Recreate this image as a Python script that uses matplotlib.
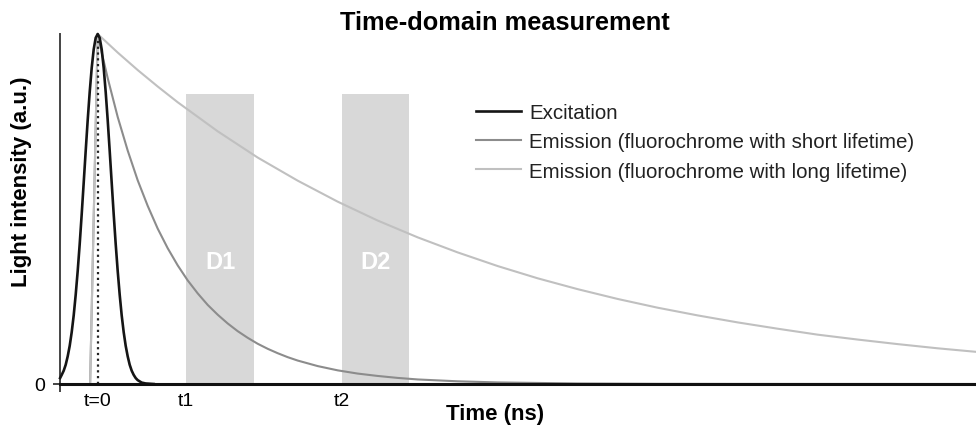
import matplotlib
matplotlib.use("Agg")
import matplotlib.pyplot as plt

plt.rcParams['font.family'] = ['Liberation Sans', 'DejaVu Sans']

# ---- data (time in ns-like units, intensity normalised) ----
exc_t = [-0.94, -0.9, -0.85, -0.8, -0.75, -0.7, -0.65, -0.6, -0.55, -0.5, -0.45, -0.4,
         -0.35, -0.3, -0.25, -0.2, -0.15, -0.1, -0.05, 0.0, 0.05, 0.1, 0.15, 0.2, 0.25,
         0.3, 0.35, 0.4, 0.45, 0.5, 0.55, 0.6, 0.65, 0.7, 0.75, 0.8, 0.85, 0.9, 0.95,
         1.0, 1.1, 1.2, 1.4]
exc_y = [0.017, 0.026, 0.038, 0.055, 0.079, 0.109, 0.148, 0.196, 0.255, 0.323, 0.400, 0.485,
         0.575, 0.666, 0.754, 0.834, 0.903, 0.956, 0.989, 1.0, 0.989, 0.956, 0.903, 0.834, 0.754,
         0.666, 0.575, 0.485, 0.400, 0.323, 0.255, 0.196, 0.148, 0.109, 0.079, 0.055, 0.038, 0.026, 0.017,
         0.011, 0.004, 0.0015, 0.0]

short_t = [-0.19, 0.0, 0.1, 0.25, 0.5, 0.75, 1.0, 1.25, 1.5, 1.75, 2.0, 2.25, 2.5, 2.75, 3.0,
           3.25, 3.5, 3.75, 4.0, 4.25, 4.5, 4.75, 5.0, 5.5, 6.0, 6.5, 7.0, 7.5, 8.0, 9.0, 10.0,
           12.0, 14.0, 16.0, 22.0]
short_y = [0.0, 1.0, 0.947, 0.874, 0.763, 0.667, 0.582, 0.509, 0.444, 0.388, 0.339, 0.296, 0.259, 0.226, 0.198,
           0.173, 0.151, 0.132, 0.115, 0.1006, 0.088, 0.0767, 0.067, 0.0512, 0.039, 0.0298, 0.023, 0.0174, 0.013,
           0.0077, 0.0045, 0.0015, 0.0005, 0.0002, 0.0]

long_t = [-0.19, 0.0, 0.5, 1.0, 1.5, 2.0, 3.0, 4.0, 5.0, 6.0, 7.0, 8.0, 9.0, 10.0, 11.0,
          12.0, 13.0, 14.0, 15.0, 16.0, 17.0, 18.0, 19.0, 20.0, 21.0, 22.0]
long_y = [0.0, 1.0, 0.947, 0.897, 0.850, 0.805, 0.722, 0.647, 0.581, 0.521, 0.467, 0.419, 0.376, 0.337, 0.302,
          0.271, 0.243, 0.218, 0.196, 0.176, 0.158, 0.141, 0.127, 0.114, 0.102, 0.0915]

gate_labels = ["D1", "D2"]
gate_start = [2.22, 6.10]
gate_end = [3.91, 7.79]
gate_height = 0.83

tick_pos = [0.0, 2.2, 6.1]
tick_labels = ["t=0", "t1", "t2"]

series_labels = ["Excitation",
                 "Emission (fluorochrome with short lifetime)",
                 "Emission (fluorochrome with long lifetime)"]

# ---- figure ----
W, H = 976, 427
fig = plt.figure(figsize=(W / 100, H / 100), dpi=100)
ax = fig.add_axes([60 / W, (H - 385) / H, (W - 60) / W, 350 / H])
ax.set_xlim(-0.9425, 21.96)
ax.set_ylim(0, 1.0)

for lab, a, b in zip(gate_labels, gate_start, gate_end):
    ax.axvspan(a, b, ymin=0, ymax=gate_height, color='#d8d8d8', lw=0, zorder=1)
    ax.text((a + b) / 2, 0.35, lab, color='white', fontsize=17, fontweight='bold',
            ha='center', va='center', zorder=2)

c_exc, c_short, c_long = '#151515', '#8c8c8c', '#c0c0c0'
l_long, = ax.plot(long_t, long_y, color=c_long, lw=1.5, zorder=3, clip_on=False,
                  solid_joinstyle='round')
l_short, = ax.plot(short_t, short_y, color=c_short, lw=1.5, zorder=2.5, clip_on=False,
                   solid_joinstyle='round')
l_exc, = ax.plot(exc_t, exc_y, color=c_exc, lw=1.9, zorder=4, clip_on=False,
                 solid_joinstyle='round')
ax.plot([0, 0], [0, 0.99], color='#222222', lw=1.6, ls=(0, (1, 1.6)), zorder=5)

# spines
for s in ['top', 'right']:
    ax.spines[s].set_visible(False)
ax.spines['left'].set_color('#444444')
ax.spines['left'].set_linewidth(1.4)
ax.spines['bottom'].set_color('#111111')
ax.spines['bottom'].set_linewidth(2.2)
ax.spines['bottom'].set_zorder(6)

ax.set_xticks(tick_pos)
ax.set_xticklabels(tick_labels, fontsize=14)
ax.tick_params(axis='x', length=0, pad=6)
ax.set_xticks([-0.9425], minor=True)
ax.tick_params(axis='x', which='minor', length=6, width=1.4, color='#444444')
ax.set_yticks([0])
ax.set_yticklabels(["0"], fontsize=14)
ax.tick_params(axis='y', length=5, width=1.4, color='#444444', pad=6)

# titles
fig.text(504.5 / W, (H - 23) / H, "Time-domain measurement", fontsize=18.3, fontweight='bold',
         ha='center', va='center')
fig.text(495 / W, (H - 415) / H, "Time (ns)", fontsize=16, fontweight='bold',
         ha='center', va='center')
fig.text(21.7 / W, (H - 181.5) / H, "Light intensity (a.u.)", fontsize=16, fontweight='bold',
         ha='center', va='center', rotation=90)

# legend
leg = ax.legend([l_exc, l_short, l_long], series_labels, loc='upper left',
                bbox_to_anchor=(476 / W, (H - 104) / H), bbox_transform=fig.transFigure,
                frameon=False, fontsize=14.8, handlelength=2.2, handletextpad=0.4,
                labelspacing=0.5, borderpad=0, borderaxespad=0)
for t in leg.get_texts():
    t.set_color('#222222')

fig.savefig("out.png", dpi=100)
